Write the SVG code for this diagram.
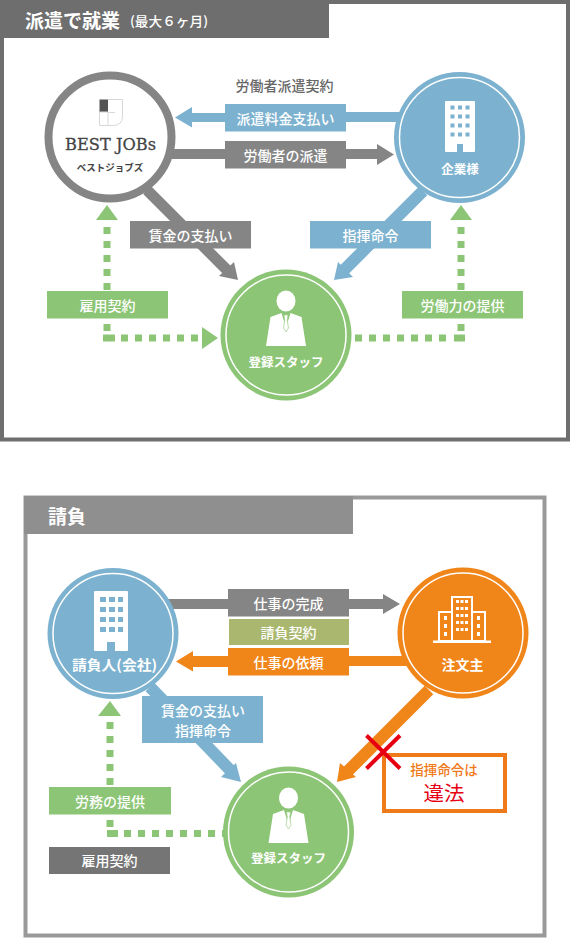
<svg xmlns="http://www.w3.org/2000/svg" width="570" height="938" viewBox="0 0 570 938">
<style>
text{font-family:"Noto Sans CJK JP","Noto Sans",sans-serif;text-anchor:middle;dominant-baseline:central}
.w{fill:#fff}
.lb{fill:#fff;font-size:14px;font-weight:500}
.nm{fill:#fff;font-size:12.5px;font-weight:700}
.nl{fill:#fff;font-size:14px;font-weight:700}
.gr{fill:#858585}.bl{fill:#7cb2cf}.gn{fill:#8cc576}.or{fill:#f08519}
.ring{fill:none;stroke:#fff;stroke-width:1.5}
.dot{fill:none;stroke:#8cc576;stroke-width:7;stroke-dasharray:7 7}
.dotc{fill:none;stroke:#8cc576;stroke-width:7}
.sg{stroke:#858585;stroke-width:11;fill:none}.sb{stroke:#7cb2cf;stroke-width:12;fill:none}.so{stroke:#f08519;stroke-width:12;fill:none}
</style>
<defs>
<g id="person">
<ellipse cx="0" cy="-34" rx="9.500" ry="10.500" fill="#fff"/>
<path d="M-20 11L-15.500-18L-4.500-22L0 -7L4.500-22L15.500-18L20 11Z" fill="#fff"/>
<path d="M-2 -20H2L1.200-15L2.500-7L0 -3L-2.500-7L-1.200-15Z" fill="#fff" stroke="#a9d398" stroke-width=".8"/>
</g>
</defs>

<g id="panel-haken">
<rect x="2" y="2" width="566" height="437.500" fill="#fff" stroke="#6e6e6e" stroke-width="4"/>
<rect x="0" y="0" width="329" height="38" fill="#6e6e6e"/>
<text x="72.500" y="19" class="w" font-size="19" font-weight="700">派遣で就業</text>
<text x="169" y="20" class="w" font-size="13" font-weight="500" textLength="78" lengthAdjust="spacingAndGlyphs">(最大６ヶ月)</text>
</g>

<g id="panel-ukeoi">
<rect x="25.500" y="497.500" width="519" height="438" fill="#fff" stroke="#999" stroke-width="4"/>
<rect x="24" y="496" width="329" height="38" fill="#8f8f8f"/>
<text x="67" y="515" class="w" font-size="19" font-weight="700">請負</text>
</g>

<g id="connectors">
<path class="bl" d="M175 117.500L192 107V113H346V122H192V127.500Z"/>
<rect class="bl" x="340" y="112" width="62" height="10"/>
<rect class="gr" x="170" y="149" width="60" height="10"/>
<path class="gr" d="M345 149H377V144L394 154.500L377 165V159H345Z"/>
<path class="sg" d="M147 190L228 271"/>
<path class="gr" d="M238 280L219 276L234 262Z"/>
<path class="sb" d="M423 191L344 270"/>
<path class="bl" d="M334 280L338 262L353 277Z"/>
<g id="dotted-top">
<path class="dot" d="M107 227V290"/>
<path class="dot" d="M107 324V331"/>
<path class="dotc" d="M103 338H115"/>
<path class="dot" d="M121 338H198"/>
<path class="dot" d="M355 338H450"/>
<path class="dotc" d="M454 338H465"/>
<path class="dot" d="M461 227V290"/>
<path class="dot" d="M461 324V331"/>
<path class="gn" d="M107 205L118 220H96Z"/>
<path class="gn" d="M461 205L472 220H450Z"/>
<path class="gn" d="M202 327L218 338L202 349Z"/>
</g>
<rect class="gr" x="165" y="599" width="70" height="10"/>
<path class="gr" d="M345 599H383V594L400 604L383 614V609H345Z"/>
<path class="or" d="M176 661.500L193 651V656H345V667H193V671.500Z"/>
<rect class="or" x="345" y="656" width="62" height="10"/>
<path class="sb" d="M150 687L232 772"/>
<path class="bl" d="M241 782L221 777L236 763Z"/>
<path class="so" d="M429 690L347 772"/>
<path class="or" d="M337 782L340 763L356 777Z"/>
<g id="dotted-bottom">
<path class="dot" d="M110 722V788"/>
<path class="dot" d="M110 820V827"/>
<path class="dotc" d="M107 833.500H118"/>
<path class="dot" d="M124 833.500H224"/>
<path class="gn" d="M110 701L121 716H98Z"/>
</g>
</g>

<g id="label-contract-top"><text x="284.500" y="85" font-size="14" font-weight="500" fill="#666">労働者派遣契約</text></g>
<g id="label-fee"><rect class="bl" x="225" y="104" width="121" height="27.500"/><text class="lb" x="285.500" y="117.500">派遣料金支払い</text></g>
<g id="label-dispatch"><rect class="gr" x="225" y="141" width="121" height="27.500"/><text class="lb" x="285.500" y="154.500">労働者の派遣</text></g>
<g id="label-wage"><rect class="gr" x="130" y="221" width="121" height="27.500"/><text class="lb" x="190.500" y="234.500">賃金の支払い</text></g>
<g id="label-command"><rect class="bl" x="310" y="221" width="121" height="27.500"/><text class="lb" x="370.500" y="234.500">指揮命令</text></g>
<g id="label-employ"><rect class="gn" x="47" y="291" width="121" height="27.500"/><text class="lb" x="107.500" y="304.500">雇用契約</text></g>
<g id="label-labor"><rect class="gn" x="402" y="291" width="121" height="27.500"/><text class="lb" x="462.500" y="304.500">労働力の提供</text></g>

<g id="node-bestjobs">
<circle cx="110" cy="137" r="61.500" fill="#fff" stroke="#858585" stroke-width="8"/>
<rect x="99.500" y="99.500" width="8.500" height="12.500" fill="#555"/>
<path d="M108 99.500H122.500V116Q122.500 125.500 113 125.500H99.500V112H108V125.500M108 112.500H115" fill="none" stroke="#d8d8d8" stroke-width="1"/>
<text x="110.500" y="144" font-size="17.500" fill="#444" stroke="#444" stroke-width=".3" textLength="91" lengthAdjust="spacingAndGlyphs" style="font-family:'DejaVu Serif',serif">BEST JOBs</text>
<text x="110" y="167" font-size="9.500" font-weight="700" fill="#444">ベストジョブズ</text>
</g>

<g id="node-company">
<circle class="bl" cx="459.500" cy="137.500" r="65.500"/>
<circle class="ring" cx="459.500" cy="137.500" r="60"/>
<path class="w" d="M446 101H474Q475 101 475 102V151Q475 152 474 152H463V144H457V152H446Q445 152 445 151V102Q445 101 446 101Z"/>
<g class="bl">
<rect x="450.500" y="105.500" width="4" height="4"/><rect x="458" y="105.500" width="4" height="4"/><rect x="465.500" y="105.500" width="4" height="4"/>
<rect x="450.500" y="114.500" width="4" height="4"/><rect x="458" y="114.500" width="4" height="4"/><rect x="465.500" y="114.500" width="4" height="4"/>
<rect x="450.500" y="123.500" width="4" height="4"/><rect x="458" y="123.500" width="4" height="4"/><rect x="465.500" y="123.500" width="4" height="4"/>
<rect x="450.500" y="132.500" width="4" height="4"/><rect x="458" y="132.500" width="4" height="4"/><rect x="465.500" y="132.500" width="4" height="4"/>
</g>
<text class="nm" x="460" y="168">企業様</text>
</g>

<g id="node-staff-top">
<circle class="gn" cx="286" cy="335" r="65.500"/>
<circle class="ring" cx="286" cy="335" r="60"/>
<use href="#person" x="286" y="335"/>
<text class="nm" x="286" y="361">登録スタッフ</text>
</g>

<g id="label-complete"><rect class="gr" x="228" y="589" width="121" height="27.500"/><text class="lb" x="288.500" y="602.500">仕事の完成</text></g>
<g id="label-contract"><rect x="229" y="619" width="120" height="26" fill="#a9b86e"/><text class="lb" x="288.500" y="632">請負契約</text></g>
<g id="label-order"><rect class="or" x="228" y="648" width="121" height="27.500"/><text class="lb" x="288.500" y="661.500">仕事の依頼</text></g>
<g id="label-wage-command"><rect class="bl" x="142" y="696" width="121" height="47"/><text class="lb" x="203" y="710">賃金の支払い</text><text class="lb" x="203" y="730">指揮命令</text></g>
<g id="label-service"><rect class="gn" x="49" y="787" width="122" height="27.500"/><text class="lb" x="110" y="800.500">労務の提供</text></g>
<g id="label-employ-bottom"><rect x="49" y="847" width="121" height="27" fill="#757575"/><text class="lb" x="109.500" y="860">雇用契約</text></g>

<g id="node-contractor">
<circle class="bl" cx="113" cy="633.500" r="65.500"/>
<circle class="ring" cx="113" cy="633.500" r="60"/>
<path class="w" d="M95 591H127Q128 591 128 592V650Q128 651 127 651H115V642H107V651H95Q94 651 94 650V592Q94 591 95 591Z"/>
<g class="bl">
<rect x="100" y="597" width="6" height="5"/><rect x="109" y="597" width="6" height="5"/><rect x="118" y="597" width="5" height="5"/>
<rect x="100" y="607" width="6" height="5"/><rect x="109" y="607" width="6" height="5"/><rect x="118" y="607" width="5" height="5"/>
<rect x="100" y="617" width="6" height="5"/><rect x="109" y="617" width="6" height="5"/><rect x="118" y="617" width="5" height="5"/>
<rect x="100" y="627" width="6" height="5"/><rect x="109" y="627" width="6" height="5"/><rect x="118" y="627" width="5" height="5"/>
</g>
<text class="nl" x="114.500" y="664" textLength="85" lengthAdjust="spacingAndGlyphs">請負人(会社)</text>
</g>

<g id="node-client">
<circle class="or" cx="463" cy="633" r="65.500"/>
<circle class="ring" cx="463" cy="633" r="60"/>
<rect class="w" x="433" y="640.500" width="58" height="2.500"/>
<g fill="none" stroke="#fff" stroke-width="2">
<rect x="452" y="597" width="20" height="44"/>
<rect x="439" y="612" width="13" height="29"/>
<rect x="472" y="612" width="13" height="29"/>
</g>
<g class="w">
<rect x="456" y="600" width="3" height="3"/><rect x="460.500" y="600" width="3" height="3"/><rect x="465" y="600" width="3" height="3"/>
<rect x="456" y="607" width="3" height="3"/><rect x="460.500" y="607" width="3" height="3"/><rect x="465" y="607" width="3" height="3"/>
<rect x="456" y="614" width="3" height="3"/><rect x="460.500" y="614" width="3" height="3"/><rect x="465" y="614" width="3" height="3"/>
<rect x="456" y="621" width="3" height="3"/><rect x="460.500" y="621" width="3" height="3"/><rect x="465" y="621" width="3" height="3"/>
<rect x="456" y="628" width="3" height="3"/><rect x="460.500" y="628" width="3" height="3"/><rect x="465" y="628" width="3" height="3"/>
<rect x="444" y="616" width="3" height="4"/><rect x="444" y="624" width="3" height="4"/><rect x="444" y="632" width="3" height="4"/>
<rect x="477" y="616" width="3" height="4"/><rect x="477" y="624" width="3" height="4"/><rect x="477" y="632" width="3" height="4"/>
</g>
<text class="nl" x="462.500" y="664">注文主</text>
</g>

<g id="node-staff-bottom">
<circle class="gn" cx="288.500" cy="832" r="65.500"/>
<circle class="ring" cx="288.500" cy="832" r="60"/>
<use href="#person" x="288.500" y="832"/>
<text class="nm" x="288.500" y="857">登録スタッフ</text>
</g>

<g id="node-illegal">
<rect x="384" y="755" width="121" height="56" fill="#fff" stroke="#ef7a1a" stroke-width="4"/>
<text x="444" y="769" font-size="13.500" font-weight="500" fill="#ef7a1a">指揮命令は</text>
<text x="444" y="792" font-size="20.500" font-weight="400" fill="#e60012">違法</text>
<path d="M366.500 735.500L400 768.500M400 735.500L366.500 768.500" fill="none" stroke="#e60012" stroke-width="4"/>
</g>
</svg>
